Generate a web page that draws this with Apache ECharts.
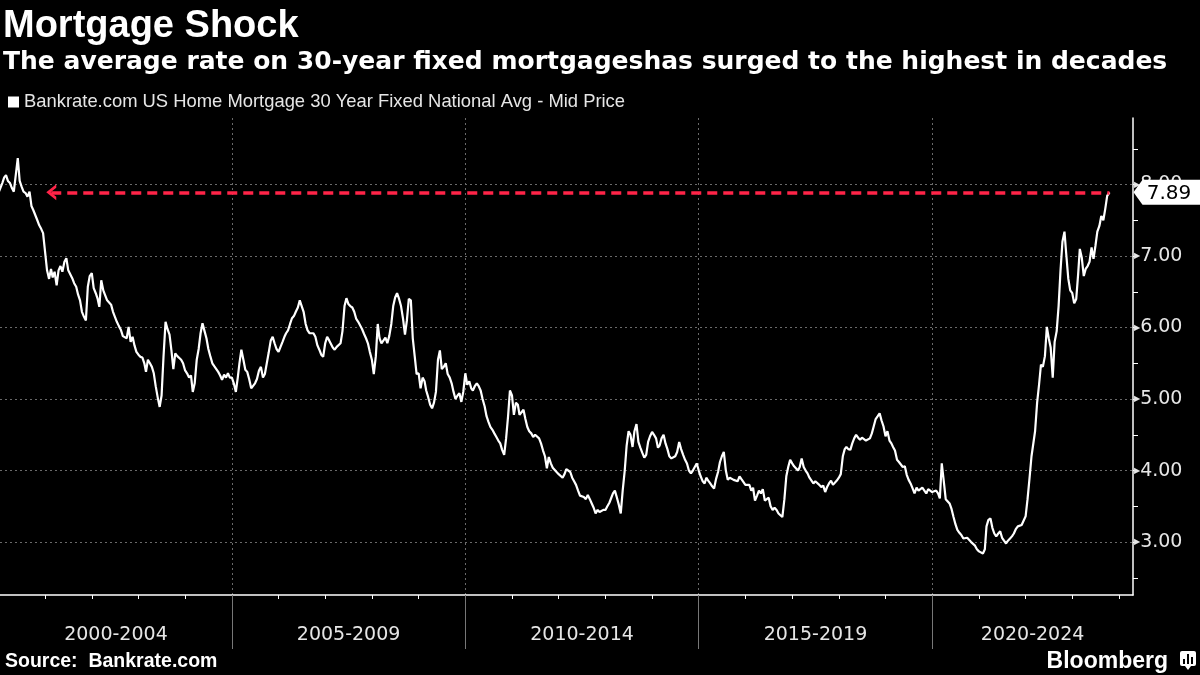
<!DOCTYPE html>
<html>
<head>
<meta charset="utf-8">
<title>Mortgage Shock</title>
<script src="https://cdn.jsdelivr.net/npm/echarts@6/dist/echarts.min.js"></script>
<style>
  html, body { margin: 0; padding: 0; background: #000; }
  #chart { width: 1200px; height: 675px; }
</style>
</head>
<body>
<div id="chart"></div>
<script>
const startYear = 2000;
const rates = [
  // 2000
  7.88, 7.90, 8.02, 8.10, 8.13, 8.05, 8.02, 7.95, 7.90, 7.92, 8.37, 8.05,
  7.97, 7.90, 7.88, 7.83, 7.90, 7.70, 7.64, 7.62, 7.50, 7.43, 7.38, 7.32,
  // 2001
  7.05, 6.80, 6.68, 6.82, 6.70, 6.78, 6.59, 6.80, 6.86, 6.78, 6.92, 6.97,
  6.80, 6.78, 6.69, 6.62, 6.57, 6.46, 6.38, 6.22, 6.15, 6.10, 6.57, 6.72,
  // 2002
  6.76, 6.55, 6.48, 6.40, 6.29, 6.66, 6.52, 6.45, 6.38, 6.40, 6.32, 6.22,
  6.15, 6.08, 6.02, 5.97, 5.88, 5.90, 5.85, 6.01, 5.80, 5.87, 5.75, 5.66,
  // 2003
  5.62, 5.59, 5.58, 5.50, 5.38, 5.55, 5.50, 5.45, 5.36, 5.18, 5.02, 4.89,
  5.05, 5.59, 6.08, 5.98, 5.90, 5.68, 5.42, 5.64, 5.60, 5.58, 5.55, 5.50,
  // 2004
  5.40, 5.36, 5.30, 5.33, 5.10, 5.22, 5.55, 5.70, 5.92, 6.06, 5.95, 5.85,
  5.70, 5.60, 5.50, 5.46, 5.42, 5.38, 5.33, 5.27, 5.34, 5.30, 5.36, 5.30,
  // 2005
  5.30, 5.22, 5.10, 5.30, 5.50, 5.69, 5.55, 5.41, 5.38, 5.28, 5.15, 5.13,
  5.22, 5.28, 5.40, 5.45, 5.30, 5.35, 5.50, 5.65, 5.82, 5.87, 5.78, 5.70,
  // 2006
  5.66, 5.64, 5.80, 5.87, 5.92, 5.96, 6.05, 6.13, 6.16, 6.22, 6.28, 6.38,
  6.30, 6.22, 6.05, 5.96, 5.92, 5.90, 5.92, 5.87, 5.75, 5.69, 5.62, 5.59,
  // 2007
  5.78, 5.87, 5.82, 5.80, 5.72, 5.69, 5.73, 5.75, 5.78, 5.95, 6.30, 6.41,
  6.33, 6.30, 6.28, 6.22, 6.12, 6.08, 6.06, 5.98, 5.91, 5.85, 5.78, 5.66,
  // 2008
  5.55, 5.35, 5.60, 6.05, 5.85, 5.78, 5.82, 5.86, 5.78, 5.88, 6.05, 6.30,
  6.42, 6.48, 6.40, 6.30, 6.12, 5.90, 6.10, 6.40, 6.38, 5.85, 5.60, 5.35,
  // 2009
  5.36, 5.15, 5.30, 5.25, 5.12, 5.03, 4.92, 4.87, 4.95, 5.10, 5.55, 5.68,
  5.42, 5.45, 5.50, 5.35, 5.30, 5.22, 5.10, 5.00, 5.05, 5.08, 4.96, 5.10,
  // 2010
  5.36, 5.20, 5.25, 5.15, 5.12, 5.18, 5.22, 5.18, 5.12, 5.00, 4.90, 4.76,
  4.68, 4.61, 4.57, 4.52, 4.47, 4.42, 4.38, 4.29, 4.22, 4.45, 4.75, 5.12,
  // 2011
  5.05, 4.78, 4.95, 4.92, 4.78, 4.80, 4.85, 4.72, 4.61, 4.55, 4.52, 4.47,
  4.50, 4.52, 4.45, 4.38, 4.28, 4.20, 4.03, 4.19, 4.10, 4.04, 4.02, 3.98,
  // 2012
  3.95, 3.93, 3.90, 3.95, 4.02, 4.04, 3.98, 3.90, 3.85, 3.80, 3.72, 3.65,
  3.63, 3.63, 3.60, 3.66, 3.60, 3.54, 3.48, 3.40, 3.45, 3.42, 3.40, 3.45,
  // 2013
  3.45, 3.50, 3.55, 3.62, 3.68, 3.72, 3.62, 3.52, 3.40, 3.72, 4.00, 4.35,
  4.55, 4.50, 4.33, 4.55, 4.65, 4.40, 4.32, 4.25, 4.18, 4.22, 4.40, 4.48,
  // 2014
  4.54, 4.50, 4.45, 4.32, 4.35, 4.45, 4.50, 4.38, 4.30, 4.20, 4.17, 4.15,
  4.20, 4.26, 4.40, 4.30, 4.22, 4.15, 4.10, 4.00, 3.96, 4.00, 4.05, 4.10,
  // 2015
  4.00, 3.92, 3.85, 3.82, 3.90, 3.86, 3.82, 3.78, 3.75, 3.88, 3.98, 4.12,
  4.20, 4.26, 4.00, 3.87, 3.90, 3.88, 3.87, 3.86, 3.85, 3.92, 3.88, 3.87,
  // 2016
  3.80, 3.78, 3.80, 3.72, 3.76, 3.58, 3.65, 3.72, 3.68, 3.74, 3.58, 3.60,
  3.62, 3.50, 3.45, 3.48, 3.45, 3.40, 3.38, 3.35, 3.60, 3.92, 4.05, 4.15,
  // 2017
  4.10, 4.06, 4.03, 4.00, 4.05, 4.17, 4.05, 4.00, 3.96, 3.90, 3.86, 3.82,
  3.85, 3.87, 3.80, 3.77, 3.79, 3.70, 3.77, 3.82, 3.86, 3.80, 3.82, 3.86,
  // 2018
  3.90, 3.95, 4.20, 4.30, 4.33, 4.30, 4.29, 4.38, 4.45, 4.50, 4.46, 4.43,
  4.46, 4.44, 4.42, 4.40, 4.45, 4.52, 4.62, 4.72, 4.76, 4.80, 4.70, 4.62,
  // 2019
  4.48, 4.55, 4.42, 4.38, 4.33, 4.28, 4.15, 4.12, 4.10, 4.05, 4.06, 3.94,
  3.87, 3.82, 3.75, 3.68, 3.76, 3.72, 3.74, 3.76, 3.72, 3.68, 3.74, 3.76,
  // 2020
  3.70, 3.68, 3.72, 3.68, 3.61, 4.10, 3.85, 3.60, 3.58, 3.54, 3.46, 3.35,
  3.25, 3.17, 3.13, 3.10, 3.05, 3.03, 3.06, 3.04, 3.00, 3.00, 2.95, 2.90,
  // 2021
  2.87, 2.85, 2.84, 2.90, 3.22, 3.31, 3.33, 3.20, 3.12, 3.08, 3.12, 3.15,
  3.06, 3.02, 2.98, 3.02, 3.05, 3.08, 3.12, 3.18, 3.22, 3.20, 3.24, 3.26,
  // 2022
  3.36, 3.60, 3.90, 4.20, 4.22, 4.55, 4.95, 5.20, 5.48, 5.45, 5.60, 6.01,
  5.85, 5.72, 5.30, 5.80, 5.95, 6.30, 6.80, 7.20, 7.34, 7.00, 6.68, 6.52,
  // 2023 (to 1 Oct)
  6.48, 6.34, 6.40, 6.75, 7.10, 6.98, 6.72, 6.82, 6.86, 6.92, 7.12, 6.96,
  7.14, 7.34, 7.42, 7.56, 7.50, 7.66, 7.84
];
const lastDate = '2023-10-19';
const lastRate = 7.89;
const arrowFrom = '2001-02-18';

const xMin = '2000-01-14';
const xMax = '2024-04-20';
const yMin = 2.26;
const yMax = 8.93;

const periodLabels = ['2000-2004', '2005-2009', '2010-2014', '2015-2019', '2020-2024'];
const yLabels = [3, 4, 5, 6, 7, 8];
const yMinorTicks = [2.5, 3, 3.5, 4, 4.5, 5, 5.5, 6, 6.5, 7, 7.5, 8, 8.5];

const seriesName = 'Bankrate.com US Home Mortgage 30 Year Fixed National Avg - Mid Price';

// dates go on a plain value axis as ms, so custom ticks work
function t(s) {
  let p = s.split('-');
  return new Date(+p[0], +p[1] - 1, +p[2]).getTime();
}

let lineData = rates.map((v, i) => {
  let y = startYear + Math.floor(i / 24);
  let m = Math.floor((i % 24) / 2);
  let d = i % 2 ? 16 : 1;
  return [new Date(y, m, d).getTime(), v];
});
lineData.push([t(lastDate), lastRate]);

const tMin = t(xMin), tMax = t(xMax);

let yearTicks = [];
for (let y = startYear + 1; y <= 2024; y++) yearTicks.push(new Date(y, 0, 1).getTime());
let periodBounds = [2005, 2010, 2015, 2020].map(y => new Date(y, 0, 1).getTime());
let periodMids = periodLabels.map(s => {
  let a = Math.max(new Date(+s.slice(0, 4), 0, 1).getTime(), tMin);
  let b = Math.min(new Date(+s.slice(5) + 1, 0, 1).getTime(), tMax);
  return Math.round((a + b) / 2);
});

const textColor = '#e6e6e6';
const gridColor = '#6a6a6a';
const labelFont = 'DejaVu Sans';

let chart = echarts.init(document.getElementById('chart'));
let option = {
  backgroundColor: '#000',
  animation: false,
  title: [
    {
      text: 'Mortgage Shock', left: 3, top: 8, padding: 0,
      textStyle: { color: '#fff', fontSize: 38, fontWeight: 'bold', fontFamily: 'Liberation Sans' }
    },
    {
      text: 'The average rate on 30-year fixed mortgageshas surged to the highest in decades', left: 3, top: 50, padding: 0,
      textStyle: { color: '#fff', fontSize: 25, fontWeight: 'bold', fontFamily: 'DejaVu Sans' }
    },
    {
      text: 'Source:  Bankrate.com', left: 5, top: 652, padding: 0,
      textStyle: { color: '#fff', fontSize: 19.5, fontWeight: 'bold', fontFamily: 'Liberation Sans' }
    },
    {
      text: 'Bloomberg', right: 32, top: 650, padding: 0,
      textStyle: { color: '#fff', fontSize: 23, fontWeight: 'bold', fontFamily: 'Liberation Sans' }
    }
  ],
  legend: {
    data: [seriesName],
    left: 3, top: 88,
    icon: 'rect', itemWidth: 11, itemHeight: 11,
    textStyle: { color: textColor, fontSize: 18.4, fontFamily: 'Liberation Sans' }
  },
  grid: { left: 0, right: 67, top: 118, bottom: 80, containLabel: false },
  xAxis: [
    {
      type: 'value', min: tMin, max: tMax, position: 'bottom',
      axisLine: { lineStyle: { color: '#fff', width: 1.5 } },
      axisTick: { show: true, customValues: yearTicks, length: 4, lineStyle: { color: '#fff' } },
      axisLabel: { show: false },
      splitLine: { show: false }
    },
    {
      type: 'value', min: tMin, max: tMax, position: 'bottom',
      axisLine: { show: false },
      axisTick: { show: true, customValues: periodBounds, length: 54, lineStyle: { color: '#777' } },
      axisLabel: {
        show: true, customValues: periodMids, margin: 31,
        color: textColor, fontSize: 19, fontFamily: labelFont,
        formatter: (v) => periodLabels[periodMids.indexOf(v)]
      },
      splitLine: { show: true, lineStyle: { color: gridColor, type: [2, 3] } }
    }
  ],
  yAxis: [
    {
      type: 'value', min: yMin, max: yMax, position: 'right',
      axisLine: { show: true, lineStyle: { color: '#fff', width: 1.5 } },
      axisTick: { show: true, customValues: yMinorTicks, length: 5, lineStyle: { color: '#fff' } },
      axisLabel: { show: false },
      splitLine: { show: false }
    },
    {
      type: 'value', min: yMin, max: yMax, position: 'right',
      axisLine: { show: false },
      axisTick: { show: false, customValues: yLabels },
      axisLabel: {
        show: true, customValues: yLabels, margin: 1,
        formatter: (v) => '{t|\u25B6}{v|' + v.toFixed(2) + '}',
        rich: {
          t: { color: textColor, fontSize: 8, fontFamily: labelFont },
          v: { color: textColor, fontSize: 19, fontFamily: labelFont }
        }
      },
      splitLine: { show: true, lineStyle: { color: gridColor, type: [2, 3] } }
    }
  ],
  series: [
    {
      name: seriesName,
      type: 'line',
      data: lineData,
      showSymbol: false,
      color: '#fff',
      lineStyle: { color: '#fff', width: 2.2 },
      z: 3,
      markLine: {
        silent: true,
        symbol: ['path://M0,10 L8,0 L16,10 L12.5,10 L8,4.4 L3.5,10 Z', 'none'],
        symbolSize: [16, 10],
        label: { show: false },
        lineStyle: { color: '#ff2448', width: 3.5, type: [10, 6] },
        data: [[{ coord: [t(arrowFrom), lastRate] }, { coord: [t(lastDate), lastRate] }]]
      }
    },
    {
      name: 'last',
      type: 'scatter',
      data: [[tMax, lastRate]],
      symbol: 'path://M0,12.5 L9,0 L67,0 L67,25 L9,25 Z',
      symbolSize: [67, 25],
      symbolKeepAspect: false,
      symbolOffset: [34, 0],
      itemStyle: { color: '#fff', opacity: 1 },
      label: {
        show: true, position: 'inside', offset: [2, 1],
        formatter: () => lastRate.toFixed(2),
        color: '#000', fontSize: 20, fontFamily: labelFont
      },
      clip: false,
      silent: true,
      z: 6
    }
  ],
  graphic: [
    {
      type: 'group', right: 4, top: 651,
      children: [
        { type: 'rect', shape: { x: 0, y: 0, width: 16, height: 15, r: 2 }, style: { fill: '#fff' } },
        { type: 'polygon', shape: { points: [[5, 15], [11, 15], [8, 19]] }, style: { fill: '#fff' } },
        { type: 'rect', shape: { x: 3, y: 8, width: 2, height: 5 }, style: { fill: '#000' } },
        { type: 'rect', shape: { x: 7, y: 3, width: 2, height: 10 }, style: { fill: '#000' } },
        { type: 'rect', shape: { x: 11, y: 6, width: 2, height: 7 }, style: { fill: '#000' } }
      ]
    }
  ]
};
chart.setOption(option);
</script>
</body>
</html>
